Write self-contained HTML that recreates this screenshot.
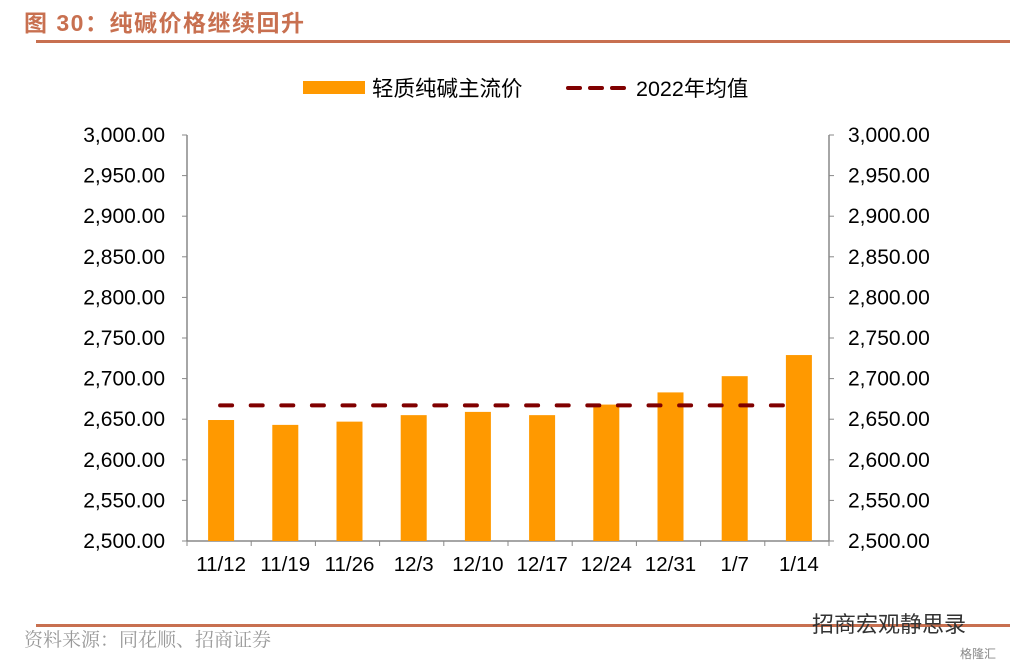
<!DOCTYPE html>
<html><head><meta charset="utf-8"><style>
body{margin:0;width:1018px;height:667px;background:#fff;overflow:hidden;font-family:"Liberation Sans","Noto Sans CJK SC",sans-serif;}
svg{position:absolute;left:0;top:0}
</style></head><body>
<svg width="1018" height="667">
<text x="24" y="31" font-size="23" font-weight="bold" fill="#c87050" letter-spacing="1.5" font-family="'Liberation Sans','Noto Sans CJK SC',sans-serif">图 30：纯碱价格继续回升</text>
<rect x="36" y="40" width="974" height="3" fill="#c87050"/>
<g>
<rect x="303" y="81" width="62" height="13" fill="#ff9900"/>
<text x="372" y="96" font-size="21.5" fill="#000">轻质纯碱主流价</text>
<line x1="568" y1="88" x2="630" y2="88" stroke="#800000" stroke-width="4" stroke-dasharray="12,10" stroke-linecap="round"/>
<text x="636" y="96" font-size="21.5" fill="#000">2022年均值</text>
</g>
<g id="axes"></g>
<g id="bars"></g>
<g id="avg"></g>
<rect x="36" y="624" width="974" height="3" fill="#c87050"/>
<text x="24" y="646" font-size="19" fill="#999" font-family="'Liberation Serif','Noto Serif CJK SC',serif">资料来源：同花顺、招商证券</text>
<text x="812" y="632" font-size="22" fill="#333">招商宏观静思录</text>
<text x="960" y="658" font-size="12" fill="#888">格隆汇</text>
</svg>
<script>
const categories=["11/12","11/19","11/26","12/3","12/10","12/17","12/24","12/31","1/7","1/14"];
const prices=[2649,2643,2647,2655,2659,2655,2668,2683,2703,2729];
const avg2022=2667;
const ticks=[2500,2550,2600,2650,2700,2750,2800,2850,2900,2950,3000];
const NS="http://www.w3.org/2000/svg";
const L=187,R=829,T=135,B=541,ymin=2500,ymax=3000;
const y=v=>B-(v-ymin)/(ymax-ymin)*(B-T);
const bw=(R-L)/categories.length;
const x=i=>L+2+bw*(i+0.5);
function mk(tag,attrs,parent){const e=document.createElementNS(NS,tag);for(const k in attrs)e.setAttribute(k,attrs[k]);document.getElementById(parent).appendChild(e);return e;}
let e;
e=mk("line",{x1:L,y1:T,x2:L,y2:B,stroke:"#888","stroke-width":1.5},"axes");


e=mk("line",{x1:R,y1:T,x2:R,y2:B,stroke:"#888","stroke-width":1.5},"axes");


e=mk("line",{x1:L,y1:B,x2:R,y2:B,stroke:"#888","stroke-width":1.5},"axes");


ticks.forEach(t=>{
 const yy=y(t);
 e=mk("line",{x1:L-5,y1:yy,x2:L,y2:yy,stroke:"#888"},"axes");
 
 
 e=mk("line",{x1:R,y1:yy,x2:R+5,y2:yy,stroke:"#888"},"axes");
 
 
 const lab=t.toLocaleString("en-US",{minimumFractionDigits:2});
 e=mk("text",{x:165,y:yy+7,"font-size":21,"text-anchor":"end",fill:"#000"},"axes");e.textContent=lab;
 
 
 e=mk("text",{x:848,y:yy+7,"font-size":21,fill:"#000"},"axes");e.textContent=lab;
 
 
});
for(let i=0;i<=categories.length;i++){
 e=mk("line",{x1:L+bw*i,y1:B,x2:L+bw*i,y2:B+5,stroke:"#888"},"axes");
 
 
}
categories.forEach((c,i)=>{
 e=mk("text",{x:x(i),y:571,"font-size":20.5,"text-anchor":"middle",fill:"#000"},"axes");e.textContent=c;
 
 
 e=mk("rect",{x:x(i)-13,y:y(prices[i]),width:26,height:B-y(prices[i]),fill:"#ff9900"},"bars");
 
 
});
e=mk("line",{x1:x(0)-1,y1:y(avg2022),x2:x(categories.length-1)-10,y2:y(avg2022),stroke:"#800000","stroke-width":4,"stroke-dasharray":"12,18.6","stroke-linecap":"round"},"avg");


</script>
</body></html>
